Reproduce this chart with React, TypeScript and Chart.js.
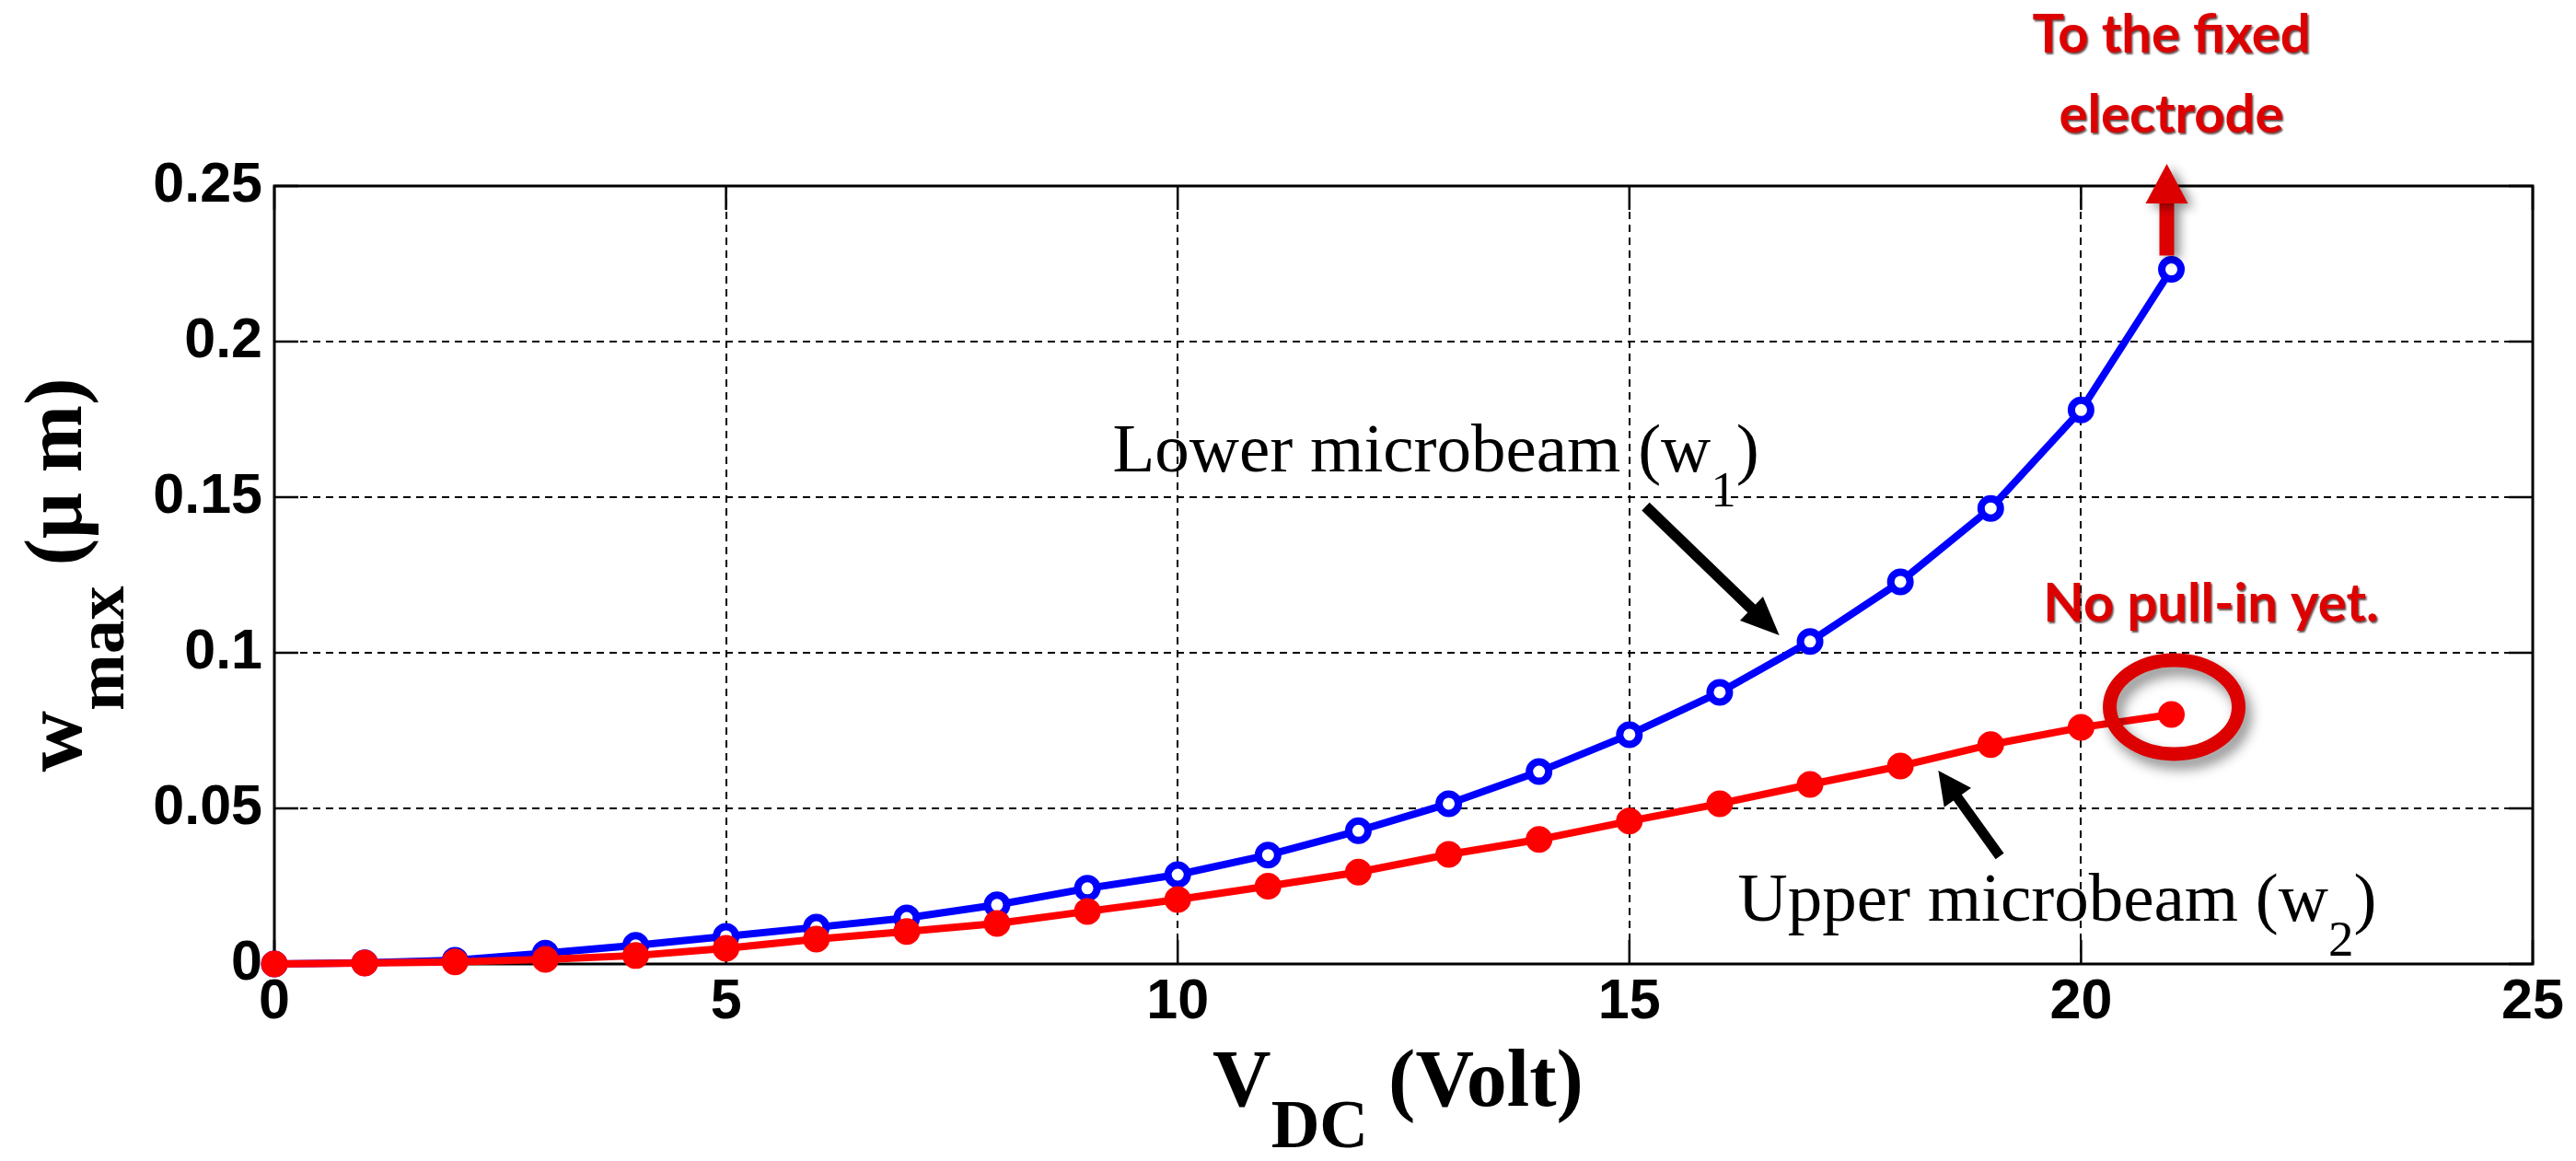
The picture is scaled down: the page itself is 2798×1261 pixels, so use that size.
import React, { useEffect, useRef } from 'react';
import { Chart, registerables } from 'chart.js';

Chart.register(...registerables);

// ---- data ----
const voltage = [0, 1, 2, 3, 4, 5, 6, 7, 8, 9, 10, 11, 12, 13, 14, 15, 16, 17, 18, 19, 20, 21];
const lowerBeam = [0, 0.0004, 0.0012, 0.0035, 0.006, 0.0089, 0.0118, 0.0148, 0.019, 0.0243, 0.0287, 0.035, 0.0428, 0.0515, 0.0618, 0.0737, 0.0873, 0.1036, 0.1228, 0.1464, 0.178, 0.2232];
const upperBeam = [0, 0.0003, 0.0007, 0.0015, 0.0027, 0.005, 0.008, 0.0104, 0.013, 0.0169, 0.0207, 0.025, 0.0295, 0.0352, 0.04, 0.0459, 0.0515, 0.0577, 0.0636, 0.0705, 0.076, 0.0802];
const xTickLabels = ['0', '5', '10', '15', '20', '25'];
const yTickLabels = ['0', '0.05', '0.1', '0.15', '0.2', '0.25'];

const W = 2798;
const H = 1261;
const SERIF = "'Liberation Serif', 'Times New Roman', serif";
const SANS = "'Liberation Sans', Arial, sans-serif";
const CAL = "Lato, 'Open Sans', sans-serif";
const RED_NOTE = '#dd0000';

type Run = { text: string; font: string; dy?: number };

function runsWidth(ctx: CanvasRenderingContext2D, runs: Run[]) {
  let w = 0;
  for (const r of runs) {
    ctx.font = r.font;
    w += ctx.measureText(r.text).width;
  }
  return w;
}

function drawRuns(ctx: CanvasRenderingContext2D, x: number, y: number, runs: Run[]) {
  let cx = x;
  for (const r of runs) {
    ctx.font = r.font;
    ctx.fillText(r.text, cx, y + (r.dy || 0));
    cx += ctx.measureText(r.text).width;
  }
}

function arrow(
  ctx: CanvasRenderingContext2D,
  x1: number, y1: number, x2: number, y2: number,
  lw: number, headLen: number, headW: number, color: string
) {
  const a = Math.atan2(y2 - y1, x2 - x1);
  const bx = x2 - Math.cos(a) * headLen;
  const by = y2 - Math.sin(a) * headLen;
  ctx.strokeStyle = color;
  ctx.fillStyle = color;
  ctx.lineWidth = lw;
  ctx.lineCap = 'butt';
  ctx.beginPath();
  ctx.moveTo(x1, y1);
  ctx.lineTo(bx + Math.cos(a) * 2, by + Math.sin(a) * 2);
  ctx.stroke();
  const nx = -Math.sin(a) * headW / 2;
  const ny = Math.cos(a) * headW / 2;
  ctx.beginPath();
  ctx.moveTo(x2, y2);
  ctx.lineTo(bx + nx, by + ny);
  ctx.lineTo(bx - nx, by - ny);
  ctx.closePath();
  ctx.fill();
}

const framePlugin = {
  id: 'matlabFrame',
  beforeDatasetsDraw(chart: any) {
    const { ctx, chartArea } = chart;
    const { left, right, top, bottom } = chartArea;
    const xs = chart.scales.x;
    const ys = chart.scales.y;
    const tl = 26;
    ctx.save();
    ctx.strokeStyle = '#000';
    ctx.lineWidth = 2.5;
    ctx.setLineDash([]);
    ctx.beginPath();
    xs.ticks.forEach((t: any) => {
      const px = xs.getPixelForValue(t.value);
      ctx.moveTo(px, bottom);
      ctx.lineTo(px, bottom - tl);
      ctx.moveTo(px, top);
      ctx.lineTo(px, top + tl);
    });
    ys.ticks.forEach((t: any) => {
      const py = ys.getPixelForValue(t.value);
      ctx.moveTo(left, py);
      ctx.lineTo(left + tl, py);
      ctx.moveTo(right, py);
      ctx.lineTo(right - tl, py);
    });
    ctx.stroke();
    ctx.lineWidth = 3;
    ctx.strokeRect(left, top, right - left, bottom - top);
    ctx.restore();
  },
};

const notePlugin = {
  id: 'notes',
  afterDatasetsDraw(chart: any) {
    const { ctx, chartArea } = chart;
    const xs = chart.scales.x;
    const ys = chart.scales.y;
    const px = (v: number) => xs.getPixelForValue(v);
    const py = (v: number) => ys.getPixelForValue(v);
    const last = voltage.length - 1;
    const lx = px(voltage[last]);

    ctx.save();
    ctx.textBaseline = 'alphabetic';
    ctx.textAlign = 'left';

    // ---- ellipse around last upper-beam point ----
    ctx.save();
    ctx.shadowColor = 'rgba(0,0,0,0.45)';
    ctx.shadowBlur = 14;
    ctx.shadowOffsetX = 6;
    ctx.shadowOffsetY = 9;
    ctx.strokeStyle = RED_NOTE;
    ctx.lineWidth = 15;
    ctx.beginPath();
    ctx.ellipse(lx + 3, py(upperBeam[last]) - 8, 70, 51, 0, 0, Math.PI * 2);
    ctx.stroke();
    ctx.restore();

    // ---- red arrow "to the fixed electrode" ----
    ctx.save();
    ctx.shadowColor = 'rgba(0,0,0,0.45)';
    ctx.shadowBlur = 12;
    ctx.shadowOffsetX = 6;
    ctx.shadowOffsetY = 4;
    arrow(ctx, lx - 5, py(lowerBeam[last]) - 15, lx - 5, chartArea.top - 24, 16, 43, 46, RED_NOTE);
    ctx.restore();

    // ---- black arrows ----
    arrow(ctx, px(15.18), py(0.147), px(16.66), py(0.1056), 12, 42, 36, '#000');
    arrow(ctx, px(19.1), py(0.0346), px(18.42), py(0.0621), 11, 36, 36, '#000');

    // ---- serif annotations ----
    ctx.fillStyle = '#000';
    const big = `75px ${SERIF}`;
    const sub = `55px ${SERIF}`;
    drawRuns(ctx, px(9.28), py(0.1583), [
      { text: 'Lower microbeam (w', font: big },
      { text: '1', font: sub, dy: 38 },
      { text: ')', font: big },
    ]);
    drawRuns(ctx, px(16.2), py(0.0139), [
      { text: 'Upper microbeam (w', font: big },
      { text: '2', font: sub, dy: 38 },
      { text: ')', font: big },
    ]);

    // ---- red bold notes ----
    ctx.save();
    ctx.fillStyle = RED_NOTE;
    ctx.shadowColor = 'rgba(40,0,0,0.7)';
    ctx.shadowBlur = 2;
    ctx.shadowOffsetX = 1.5;
    ctx.shadowOffsetY = 1.5;
    ctx.font = `bold 58px ${CAL}`;
    ctx.fillText('No pull-in yet.', px(19.58), py(0.11));
    ctx.textAlign = 'center';
    ctx.fillText('To the fixed', lx, chartArea.top - 145);
    ctx.fillText('electrode', lx, chartArea.top - 58);
    ctx.restore();

    ctx.restore();
  },
  afterDraw(chart: any) {
    const { ctx, chartArea } = chart;
    ctx.save();
    ctx.fillStyle = '#000';
    ctx.textBaseline = 'alphabetic';
    ctx.textAlign = 'left';

    // x axis title: V_DC (Volt)
    const xRuns: Run[] = [
      { text: 'V', font: `bold 88px ${SERIF}` },
      { text: 'DC', font: `bold 73px ${SERIF}`, dy: 45 },
      { text: ' (Volt)', font: `bold 88px ${SERIF}` },
    ];
    const xw = runsWidth(ctx, xRuns);
    drawRuns(ctx, (chartArea.left + chartArea.right) / 2 - xw / 2 - 6, 1201, xRuns);

    // y axis title: w_max (μ m)
    const yRuns: Run[] = [
      { text: 'w', font: `bold 92px ${SERIF}` },
      { text: 'max', font: `bold 74px ${SERIF}`, dy: 46 },
      { text: ' (\u03bc m)', font: `bold 88px ${SERIF}` },
    ];
    const yw = runsWidth(ctx, yRuns);
    ctx.translate(88, (chartArea.top + chartArea.bottom) / 2);
    ctx.rotate(-Math.PI / 2);
    drawRuns(ctx, -yw / 2, 0, yRuns);
    ctx.restore();
  },
};

export default function App() {
  const ref = useRef<HTMLCanvasElement | null>(null);

  useEffect(() => {
    if (!ref.current) return;
    const chart = new Chart(ref.current, {
      type: 'line',
      data: {
        datasets: [
          {
            label: 'Upper microbeam (w2)',
            data: voltage.map((v, i) => ({ x: v, y: upperBeam[i] })),
            borderColor: '#ff0000',
            backgroundColor: '#ff0000',
            borderWidth: 8,
            tension: 0,
            pointStyle: 'circle',
            pointRadius: 13,
            pointBorderWidth: 3,
            pointBackgroundColor: '#ff0000',
            pointBorderColor: '#ff0000',
            clip: false,
            order: 0,
          },
          {
            label: 'Lower microbeam (w1)',
            data: voltage.map((v, i) => ({ x: v, y: lowerBeam[i] })),
            borderColor: '#0000ff',
            backgroundColor: '#0000ff',
            borderWidth: 8,
            tension: 0,
            pointStyle: 'circle',
            pointRadius: 10.5,
            pointBorderWidth: 8,
            pointBackgroundColor: '#ffffff',
            pointBorderColor: '#0000ff',
            clip: false,
            order: 1,
          },
        ],
      },
      options: {
        responsive: false,
        maintainAspectRatio: false,
        devicePixelRatio: 1,
        animation: false,
        events: [],
        layout: { padding: { top: 202, right: 47, left: 0, bottom: 0 } },
        plugins: {
          legend: { display: false },
          tooltip: { enabled: false },
          title: { display: false },
        },
        scales: {
          x: {
            type: 'linear',
            min: 0,
            max: 25,
            afterFit: (s: any) => { s.height = 214; },
            afterBuildTicks: (s: any) => {
              s.ticks = xTickLabels.map((t) => ({ value: Number(t) }));
            },
            ticks: {
              callback: (_v: any, i: number) => xTickLabels[i],
              font: { family: SANS, size: 61, weight: 'bold' },
              color: '#000',
              padding: 6,
              maxRotation: 0,
              autoSkip: false,
            },
            grid: { color: '#000', lineWidth: 2, drawTicks: false },
            border: { display: false, dash: [8, 6] },
          },
          y: {
            type: 'linear',
            min: 0,
            max: 0.25,
            afterFit: (s: any) => { s.width = 298; },
            afterBuildTicks: (s: any) => {
              s.ticks = yTickLabels.map((t) => ({ value: Number(t) }));
            },
            ticks: {
              callback: (_v: any, i: number) => yTickLabels[i],
              font: { family: SANS, size: 61, weight: 'bold' },
              color: '#000',
              padding: 13,
              autoSkip: false,
            },
            grid: { color: '#000', lineWidth: 2, drawTicks: false },
            border: { display: false, dash: [8, 6] },
          },
        },
      },
      plugins: [framePlugin, notePlugin],
    } as any);
    return () => chart.destroy();
  }, []);

  return (
    <div style={{ position: 'absolute', left: 0, top: 0, width: W, height: H, background: '#fff' }}>
      <canvas ref={ref} width={W} height={H} style={{ width: W, height: H, display: 'block' }} />
    </div>
  );
}
